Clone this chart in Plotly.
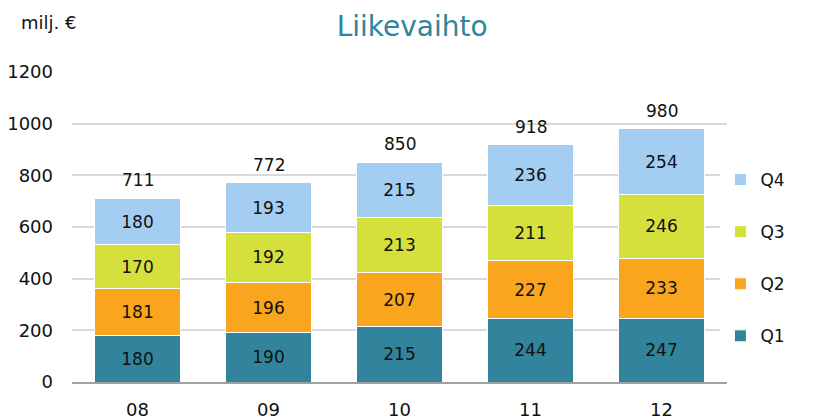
import plotly.graph_objects as go

years = ["08", "09", "10", "11", "12"]
q1 = [180, 190, 215, 244, 247]
q2 = [181, 196, 207, 227, 233]
q3 = [170, 192, 213, 211, 246]
q4 = [180, 193, 215, 236, 254]
totals = [711, 772, 850, 918, 980]
series_names = ["Q1", "Q2", "Q3", "Q4"]
colors = ["#31849B", "#F9A61E", "#D6E03D", "#A4CDF2"]
y_ticks = [0, 200, 400, 600, 800, 1000, 1200]

FONT = "DejaVu Sans"
fig = go.Figure()
for i, (name, vals, col) in enumerate(zip(series_names, [q1, q2, q3, q4], colors)):
    fig.add_trace(go.Bar(
        x=years, y=vals, name=name, marker=dict(color=col, line=dict(color="white", width=1)),
        text=vals, textposition="inside", insidetextanchor="middle", textangle=0,
        textfont=dict(family=FONT, size=17, color="#111111"),
        legendgroup=name, legendrank=10 - i,
    ))

for i, t in enumerate(totals):
    fig.add_annotation(x=i, y=t, text=str(t), showarrow=False, yanchor="middle", yshift=18,
                       font=dict(family=FONT, size=17, color="#111111"))

fig.add_annotation(xref="paper", yref="paper", x=-0.081, y=1.161, xanchor="left", yanchor="middle",
                   text="milj. €", showarrow=False, font=dict(family=FONT, size=18, color="#111111"))

fig.update_layout(
    width=805, height=411,
    margin=dict(l=64, r=86, t=64, b=37, autoexpand=False),
    barmode="stack", bargap=0.35,
    plot_bgcolor="white", paper_bgcolor="white",
    title=dict(text="Liikevaihto", x=0.502, xanchor="center", y=0.955, yanchor="middle", yref="container",
               font=dict(family=FONT, size=28, color="#31849B")),
    legend=dict(traceorder="grouped", x=0.99, xanchor="left", y=0.4, yanchor="middle",
                font=dict(family=FONT, size=17, color="#111111"), tracegroupgap=27,
                itemwidth=30),
    yaxis=dict(range=[0, 1200], tickvals=y_ticks, showgrid=True, gridcolor="#D9D9D9", gridwidth=1.5,
               zeroline=False, tickfont=dict(family=FONT, size=18, color="#111111"), ticks="",
               ticklabelstandoff=18, automargin=False),
    xaxis=dict(type="category", showline=True, linecolor="#A0A0A0", linewidth=2, ticks="",
               tickfont=dict(family=FONT, size=18, color="#111111"), automargin=False,
               ticklabelstandoff=10),
    showlegend=True,
)

fig.write_html("out.html")
